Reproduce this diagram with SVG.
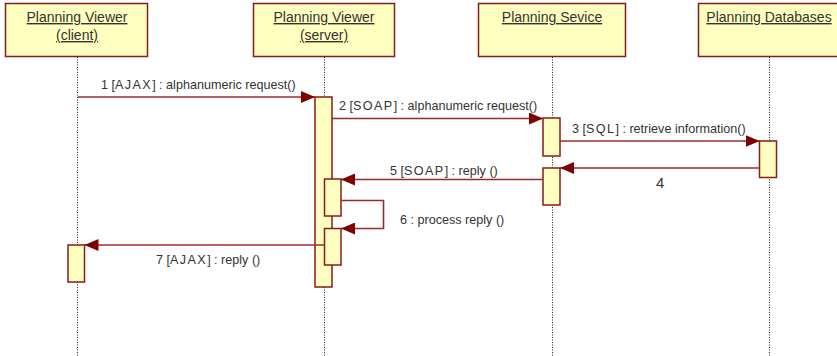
<svg xmlns="http://www.w3.org/2000/svg" width="837" height="356" viewBox="0 0 837 356">
  <style>
    .obj { fill: #FFFFC0; stroke: #8B1A1A; stroke-width: 1.5; }
    .act { fill: #FFFFC0; stroke: #8B1A1A; stroke-width: 1.5; }
    .life { stroke: #222; stroke-width: 1; stroke-dasharray: 1 1.5; fill: none; }
    .msg { stroke: #9B2B2B; stroke-width: 1.6; fill: none; }
    .name { font-family: "Liberation Sans", Arial, sans-serif; font-size: 14px; fill: #333; text-anchor: middle; text-decoration: underline; }
    .lbl { font-family: "Liberation Sans", Arial, sans-serif; font-size: 12.6px; fill: #333; }
    .sp { letter-spacing: 1.4px; }
  </style>
  <defs>
    <marker id="arrow" viewBox="0 0 14 12" refX="14" refY="6" markerWidth="14" markerHeight="12" markerUnits="userSpaceOnUse" orient="auto">
      <path d="M0,0 L14,6 L0,12 Z" fill="#800000"/>
    </marker>
  </defs>
  <rect width="837" height="356" fill="#ffffff"/>

  <!-- lifelines -->
  <g id="lifelines">
    <line class="life" x1="77.5" y1="57" x2="77.5" y2="356"/>
    <line class="life" x1="324.5" y1="57" x2="324.5" y2="356"/>
    <line class="life" x1="552.5" y1="57" x2="552.5" y2="356"/>
    <line class="life" x1="769.5" y1="57" x2="769.5" y2="356"/>
  </g>

  <!-- objects -->
  <g id="client">
    <rect class="obj" x="5.5" y="3.5" width="142" height="53"/>
    <text class="name" x="77" y="22">Planning Viewer</text>
    <text class="name" x="77" y="40">(client)</text>
  </g>
  <g id="server">
    <rect class="obj" x="253.5" y="3.5" width="141" height="53"/>
    <text class="name" x="324" y="22">Planning Viewer</text>
    <text class="name" x="324" y="40">(server)</text>
  </g>
  <g id="service">
    <rect class="obj" x="478.5" y="3.5" width="147" height="53"/>
    <text class="name" x="552" y="22">Planning Sevice</text>
  </g>
  <g id="databases">
    <rect class="obj" x="698.5" y="3.5" width="142" height="53"/>
    <text class="name" x="769" y="22">Planning Databases</text>
  </g>

  <!-- activations -->
  <g id="activations">
    <rect class="act" x="315" y="97" width="17" height="190"/>
    <rect class="act" x="543" y="118" width="17" height="38"/>
    <rect class="act" x="759.5" y="141" width="17" height="36.5"/>
    <rect class="act" x="543" y="168" width="17" height="37"/>
    <rect class="act" x="324.5" y="179" width="16.5" height="37"/>
    <rect class="act" x="324.5" y="228.5" width="16.5" height="36.5"/>
    <rect class="act" x="68" y="245" width="16.5" height="37"/>
  </g>

  <!-- messages -->
  <g id="connectors">
    <line class="msg" x1="78" y1="97" x2="315" y2="97" marker-end="url(#arrow)"/>
    <line class="msg" x1="332" y1="118.5" x2="543" y2="118.5" marker-end="url(#arrow)"/>
    <line class="msg" x1="560" y1="141" x2="759.5" y2="141" marker-end="url(#arrow)"/>
    <line class="msg" x1="759.5" y1="168" x2="560" y2="168" marker-end="url(#arrow)"/>
    <line class="msg" x1="543" y1="179.5" x2="341" y2="179.5" marker-end="url(#arrow)"/>
    <polyline class="msg" points="341,200.5 383.5,200.5 383.5,228.5 341,228.5" marker-end="url(#arrow)"/>
    <line class="msg" x1="324.5" y1="245" x2="84.5" y2="245" marker-end="url(#arrow)"/>
  </g>

  <!-- message labels -->
  <g id="labels">
    <text class="lbl" x="101" y="89">1 [<tspan class="sp">AJAX</tspan>] : alphanumeric request()</text>
    <text class="lbl" x="339" y="110">2 [<tspan class="sp">SOAP</tspan>] : alphanumeric request()</text>
    <text class="lbl" x="572" y="133">3 [<tspan class="sp">SQL</tspan>] : retrieve information()</text>
    <text class="lbl" x="656" y="188" style="font-size:15px">4</text>
    <text class="lbl" x="390" y="175">5 [<tspan class="sp">SOAP</tspan>] : reply ()</text>
    <text class="lbl" x="400" y="224">6 : process reply ()</text>
    <text class="lbl" x="156" y="264">7 [<tspan class="sp">AJAX</tspan>] : reply ()</text>
  </g>
</svg>
